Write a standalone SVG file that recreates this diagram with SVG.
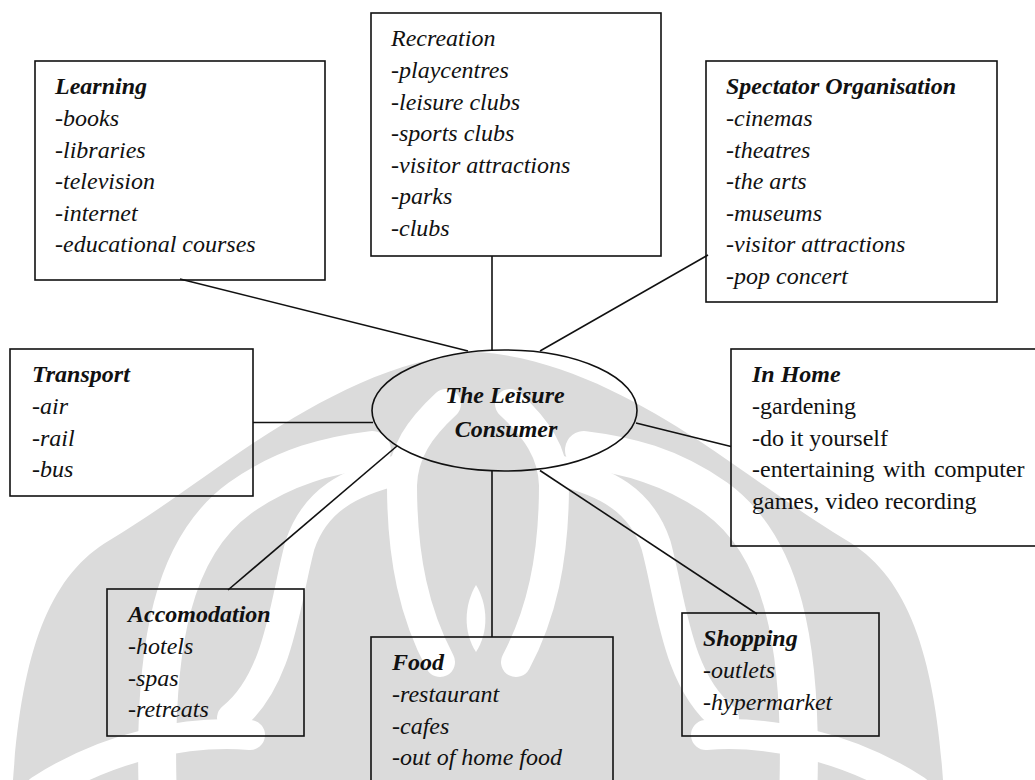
<svg xmlns="http://www.w3.org/2000/svg" xmlns:xlink="http://www.w3.org/1999/xlink" width="1035" height="780" viewBox="0 0 1035 780">
  <style>
    .box { fill: none; stroke: #111; stroke-width: 1.6; }
    .conn { fill: none; stroke: #111; stroke-width: 1.6; }
    .t { font-family: "Liberation Serif", "Times New Roman", serif; font-size: 24px; fill: #111; }
    .it { font-style: italic; }
    .bi { font-style: italic; font-weight: bold; }
    .wm { fill: #dbdbdb; }
    .gap { fill: none; stroke: #ffffff; stroke-width: 38; stroke-linecap: round; }
    .gap-thin { fill: none; stroke: #ffffff; stroke-width: 30; stroke-linecap: round; }
  </style>
  <defs>
    <!-- left half of the background emblem; mirrored for the right half -->
    <g id="wm-half">
      <path class="gap" d="M 158 800 C 152 640 175 545 240 498 C 285 466 330 455 372 450"/>
      <path class="gap-thin" d="M 232 718 C 280 680 285 600 300 545 C 315 500 350 482 398 470"/>
      <path class="gap-thin" d="M 446 404 C 420 428 403 452 402 485 C 402 560 415 615 440 662"/>
      <path class="gap-thin" d="M 40 790 C 110 745 190 730 250 735"/>
    </g>
  </defs>

  <rect width="1035" height="780" fill="#ffffff"/>

  <!-- background emblem -->
  <g id="watermark">
    <path class="wm" d="M 13 780 C 22 650 50 575 110 540 C 160 510 205 475 258 440 C 320 400 395 358 478 352 C 561 358 636 400 698 440 C 751 475 796 510 846 540 C 906 575 934 650 943 780 Z"/>
    <use xlink:href="#wm-half"/>
    <use xlink:href="#wm-half" transform="translate(956 0) scale(-1 1)"/>
    <path fill="#ffffff" d="M 476 585 C 488 605 489 632 476 652 C 463 632 464 605 476 585 Z"/>
  </g>

  <!-- connectors from the centre ellipse to each category -->
  <g id="connectors">
    <line class="conn" x1="180" y1="279" x2="468" y2="351"/>
    <line class="conn" x1="492" y1="256" x2="492" y2="350"/>
    <line class="conn" x1="708" y1="255" x2="540" y2="351"/>
    <line class="conn" x1="253" y1="422.5" x2="373" y2="422.5"/>
    <line class="conn" x1="636" y1="423" x2="731" y2="446.5"/>
    <line class="conn" x1="397" y1="446" x2="228" y2="590"/>
    <line class="conn" x1="492" y1="471" x2="492" y2="637"/>
    <line class="conn" x1="540" y1="470.5" x2="757" y2="614"/>
  </g>

  <g id="centre">
    <ellipse class="box" cx="504.5" cy="410.5" rx="132.5" ry="60.5"/>
    <text class="t bi" x="505" y="402.5" text-anchor="middle" font-size="25.5">The Leisure</text>
    <text class="t bi" x="506" y="436.5" text-anchor="middle" font-size="25.5">Consumer</text>
  </g>

  <g id="learning">
    <rect class="box" x="35" y="61" width="290" height="219"/>
    <text class="t bi" x="55" y="94.3">Learning</text>
    <text class="t it" x="55" y="125.9">-books</text>
    <text class="t it" x="55" y="157.5">-libraries</text>
    <text class="t it" x="55" y="189.1">-television</text>
    <text class="t it" x="55" y="220.7">-internet</text>
    <text class="t it" x="55" y="252.3">-educational courses</text>
  </g>

  <g id="recreation">
    <rect class="box" x="371" y="13" width="290" height="243"/>
    <text class="t it" x="391" y="46.3">Recreation</text>
    <text class="t it" x="391" y="77.9">-playcentres</text>
    <text class="t it" x="391" y="109.5">-leisure clubs</text>
    <text class="t it" x="391" y="141.1">-sports clubs</text>
    <text class="t it" x="391" y="172.7">-visitor attractions</text>
    <text class="t it" x="391" y="204.3">-parks</text>
    <text class="t it" x="391" y="235.9">-clubs</text>
  </g>

  <g id="spectator">
    <rect class="box" x="706" y="61" width="291" height="241"/>
    <text class="t bi" x="726" y="94.3">Spectator Organisation</text>
    <text class="t it" x="726" y="125.9">-cinemas</text>
    <text class="t it" x="726" y="157.5">-theatres</text>
    <text class="t it" x="726" y="189.1">-the arts</text>
    <text class="t it" x="726" y="220.7">-museums</text>
    <text class="t it" x="726" y="252.3">-visitor attractions</text>
    <text class="t it" x="726" y="283.9">-pop concert</text>
  </g>

  <g id="transport">
    <rect class="box" x="10" y="349" width="243" height="147"/>
    <text class="t bi" x="32" y="382.3">Transport</text>
    <text class="t it" x="32" y="413.9">-air</text>
    <text class="t it" x="32" y="445.5">-rail</text>
    <text class="t it" x="32" y="477.1">-bus</text>
  </g>

  <g id="in-home">
    <rect class="box" x="731" y="349" width="320" height="197"/>
    <text class="t bi" x="752" y="382.3">In Home</text>
    <text class="t" x="752" y="413.9">-gardening</text>
    <text class="t" x="752" y="445.5">-do it yourself</text>
    <text class="t" x="752" y="477.1" word-spacing="2.3">-entertaining with computer</text>
    <text class="t" x="752" y="508.7">games, video recording</text>
  </g>

  <g id="accomodation">
    <rect class="box" x="107" y="589" width="197" height="147"/>
    <text class="t bi" x="128" y="622.3">Accomodation</text>
    <text class="t it" x="128" y="653.9">-hotels</text>
    <text class="t it" x="128" y="685.5">-spas</text>
    <text class="t it" x="128" y="717.1">-retreats</text>
  </g>

  <g id="food">
    <rect class="box" x="371" y="637" width="242" height="200"/>
    <text class="t bi" x="392" y="670.3">Food</text>
    <text class="t it" x="392" y="701.9">-restaurant</text>
    <text class="t it" x="392" y="733.5">-cafes</text>
    <text class="t it" x="392" y="765.1">-out of home food</text>
  </g>

  <g id="shopping">
    <rect class="box" x="682" y="613" width="197" height="123"/>
    <text class="t bi" x="703" y="646.3">Shopping</text>
    <text class="t it" x="703" y="677.9">-outlets</text>
    <text class="t it" x="703" y="709.5">-hypermarket</text>
  </g>
</svg>
